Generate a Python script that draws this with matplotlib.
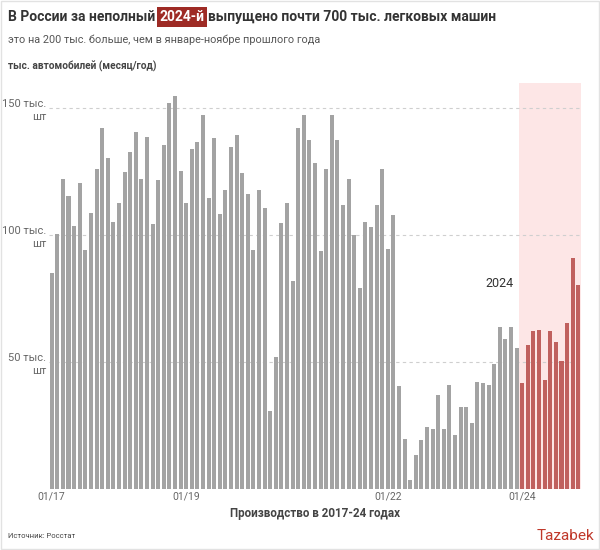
import matplotlib
matplotlib.use('Agg')
import matplotlib.pyplot as plt
from matplotlib.patches import Rectangle

plt.rcParams['font.family'] = ['Roboto', 'DejaVu Sans']

# monthly car production, thousand units, 01/2017 - 11/2024
production = [
    85.2, 100.5, 122.1, 115.4, 103.6, 120.6, 94.2, 108.6, 126.3, 142.2, 130.6, 105.3,
    112.8, 124.9, 132.8, 140.6, 122.0, 138.7, 104.5, 121.6, 135.6, 152.0, 154.7, 125.2,
    112.6, 134.0, 136.9, 147.6, 114.6, 138.3, 108.4, 118.0, 134.6, 139.4, 124.5, 116.2,
    94.1, 117.8, 110.8, 30.7, 52.0, 104.9, 112.9, 81.9, 142.4, 147.4, 137.7, 128.3,
    93.9, 126.1, 147.3, 137.4, 111.9, 122.1, 100.0, 79.4, 105.1, 103.4, 111.9, 126.0,
    94.7, 107.9, 40.7, 19.6, 3.6, 13.2, 19.1, 24.4, 23.5, 37.2, 23.5, 41.1,
    21.1, 32.3, 32.3, 26.1, 42.0, 41.9, 40.8, 49.4, 64.0, 59.0, 64.0, 55.5,
    41.9, 56.7, 62.2, 62.6, 42.8, 62.4, 58.0, 50.6, 65.6, 91.2, 80.2,
]
tick_pos = [0, 24, 60, 84]
tick_labels = ['01/17', '01/19', '01/22', '01/24']
y_ticks = [50, 100, 150]
y_labels = ['50 тыс.\nшт', '100 тыс.\nшт', '150 тыс.\nшт']
start_2024 = 84

GRAY = '#a3a3a3'
RED = '#c0605e'
PINK = '#fde6e6'

fig = plt.figure(figsize=(6, 5.5), dpi=100)
ax = fig.add_axes([0.0815, 0.111, 0.887, 0.738])

x = list(range(len(production)))
colors = [RED if i >= start_2024 else GRAY for i in x]
ax.bar(x, production, width=0.72, color=colors, zorder=3)

ax.axvspan(start_2024 - 0.5, len(production) - 0.5, color=PINK, zorder=0, lw=0)
for v in y_ticks:
    ax.axhline(v, color='#cfcfcf', lw=0.8, ls=(0, (3, 3)), zorder=1)

ax.set_xlim(-0.5, len(production) - 0.5)
ax.set_ylim(0, 160)
ax.set_xticks(tick_pos)
ax.set_xticklabels(tick_labels, fontsize=7.5, color='#666666')
ax.set_yticks(y_ticks)
ax.set_yticklabels(y_labels, fontsize=8, color='#666666', ha='right', multialignment='right',
                   linespacing=1.35)
ax.tick_params(length=0, pad=2)
for s in ax.spines.values():
    s.set_visible(False)

ax.text(82.4, 81, '2024', ha='right', va='center', fontsize=9, color='#333333')

# title with highlighted year
fig.canvas.draw()
r = fig.canvas.get_renderer()
ty = 1 - 17 / 550
t1 = fig.text(8 / 600, ty, 'В России за неполный ', fontsize=10, fontweight='bold',
              color='#333333', va='center')
bb = t1.get_window_extent(r)
t2 = fig.text(bb.x1 / 600 + 0.001, ty, '2024-й', fontsize=10, fontweight='bold',
              color='white', va='center',
              bbox=dict(boxstyle='square,pad=0.2', fc='#9e2b25', ec='none'))
bb2 = t2.get_window_extent(r)
fig.text(bb2.x1 / 600 + 0.006, ty, 'выпущено почти 700 тыс. легковых машин', fontsize=10,
         fontweight='bold', color='#333333', va='center')

fig.text(8 / 600, 1 - 40 / 550, 'это на 200 тыс. больше, чем в январе-ноябре прошлого года',
         fontsize=7.8, color='#555555', va='center')
fig.text(8 / 600, 1 - 66 / 550, 'тыс. автомобилей (месяц/год)', fontsize=7.3, fontweight='bold',
         color='#444444', va='center')
fig.text(315 / 600, 1 - 513 / 550, 'Производство в 2017-24 годах', fontsize=8.4, fontweight='bold',
         color='#444444', ha='center', va='center')
fig.text(8 / 600, 1 - 536 / 550, 'Источник: Росстат', fontsize=5.5, color='#444444', va='center')
fig.text(594 / 600, 1 - 536 / 550, 'Tazabek', fontsize=11, color='#c0392b', ha='right', va='center')

fig.patches.append(Rectangle((0.001, 0.001), 0.997, 0.997, transform=fig.transFigure,
                             fill=False, ec='#e2e2e2', lw=1))

fig.savefig('out.png', dpi=100)
